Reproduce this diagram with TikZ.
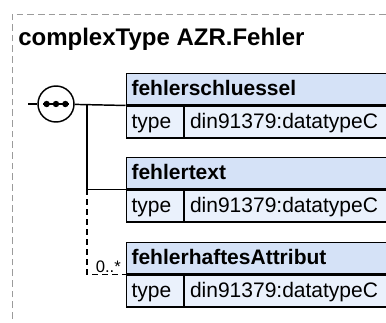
\documentclass[tikz,border=0pt]{standalone}
\usepackage{fontspec}
\setmainfont{Liberation Sans}
\usepackage{tikz}
\usetikzlibrary{positioning}
\usepackage{xcolor}
\definecolor{headblue}{RGB}{213, 226, 247}
\definecolor{typeblue}{RGB}{234, 241, 252}
\definecolor{framegray}{RGB}{155, 155, 155}

\begin{document}
\begin{tikzpicture}[x=0.75pt, y=-0.75pt,
    wire/.style={line width=1.1pt},
    optwire/.style={line width=1.1pt, dash pattern=on 4.5pt off 3pt},
    cell/.style={draw, line width=1.1pt, anchor=north west, inner xsep=4pt, inner ysep=0pt,
      text height=11.5pt, text depth=1.5pt, font=\fontsize{15.75}{18}\selectfont},
    elhead/.style={cell, fill=headblue, minimum height=23.25pt, text width=187.25pt, font=\fontsize{15.75}{18}\selectfont\bfseries},
    eltype/.style={cell, fill=typeblue, minimum height=24pt, text width=34.75pt},
    elvalue/.style={cell, fill=typeblue, minimum height=24pt, text width=144.25pt}]
    \clip (0,0) rectangle (386,322);
    % frame and title
    \draw[framegray, line width=0.75pt, dash pattern=on 5pt off 3pt] (12,340) -- (12,14) -- (400,14);
    \node[anchor=base west, inner sep=0pt, font=\fontsize{18}{22}\selectfont\bfseries] (title) at (18,45) {complexType AZR.Fehler};
    % elements
    \foreach \i/\y/\name in {1/73/fehlerschluessel, 2/157/fehlertext, 3/242/fehlerhaftesAttribut} {
      \node[elhead] (h\i) at (125.5,\y) {\name};
      \node[eltype] (t\i) at (h\i.south west) {type};
      \node[elvalue] (v\i) at (t\i.north east) {din91379:datatypeC};
    }
    % sequence
    \node[circle, draw, wire, fill=white, minimum size=27pt, inner sep=0pt] (seq) at (56,104) {};
    \draw[wire] ([xshift=-9.4pt]seq.center) -- ([xshift=9.4pt]seq.center);
    \foreach \dx in {-7,0,7}
      \fill ([xshift=\dx pt]seq.center) circle (2.4pt);
    \coordinate (entry) at (28,104);
    \coordinate (fork) at (87,104);
    \draw[wire] (entry) -- (seq);
    \draw[wire] (seq) -- (h1.south west);
    \draw[wire] (fork) |- (h2.south west);
    \draw[optwire] (fork |- h2.south west) |- (h3.south west)
      node[pos=1, anchor=base east, inner sep=0pt, xshift=-3pt, yshift=1.3pt, font=\fontsize{12.5}{14}\selectfont] {0..*};
\end{tikzpicture}
\end{document}
